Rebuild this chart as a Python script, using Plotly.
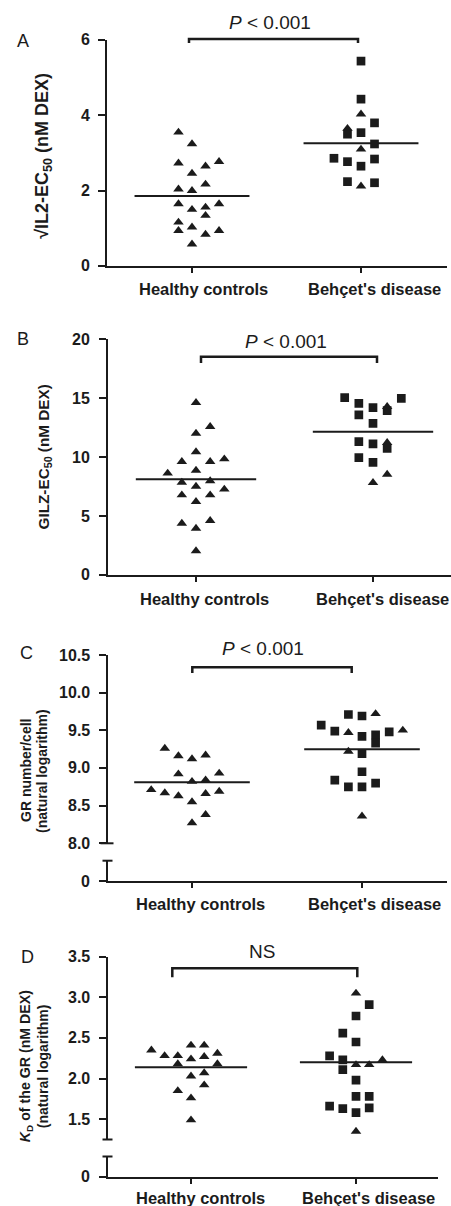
import plotly.graph_objects as go

W, H = 451, 1206
INK = "#1b1b1b"
FONT = "Liberation Sans, Arial, Helvetica, sans-serif"
SLOT = 0.08        # horizontal spacing of beeswarm columns (category units)
HALF = 0.34        # half width of the central line (category units)

categories = ["Healthy controls", "Behçet's disease"]

# ---------------- Panel A : sqrt IL2-EC50 ----------------
a_hc_tri_val = [3.55, 3.24, 2.73, 2.46, 2.65, 2.77, 2.04, 2.00, 2.17, 1.65,
                1.50, 1.56, 1.65, 1.34, 1.16, 0.94, 1.03, 0.84, 0.94, 0.58]
a_hc_tri_col = [-1, 0, -1, 0, 1, 2, -1, 0, 1, -1, 0, 1, 2, 1, -1, -1, 0, 1, 2, 0]
a_bd_sq_val = [5.44, 4.43, 3.80, 3.54, 3.50, 3.24, 2.86, 2.77, 2.65, 2.84, 2.24, 2.21]
a_bd_sq_col = [0, 0, 1, 0, -1, 1, -2, -1, 0, 1, -1, 1]
a_bd_tri_val = [4.03, 3.65, 3.10, 2.12]
a_bd_tri_col = [0, -1, 0, 0]
a_center = [1.86, 3.26]
a_ticks = [0, 2, 4, 6]
a_ticklabels = ["0", "2", "4", "6"]

# ---------------- Panel B : GILZ-EC50 ----------------
b_hc_tri_val = [14.63, 12.02, 12.59, 10.44, 9.62, 9.62, 9.84, 8.88, 8.63, 7.86,
                7.98, 7.52, 7.27, 6.79, 6.79, 6.22, 4.38, 4.61, 3.96, 2.04]
b_hc_tri_col = [0, 0, 1, 0, -1, 1, 2, 0, -2, -1, 1, 0, 2, -1, 1, 0, -1, 1, 0, 0]
b_bd_sq_val = [15.05, 14.57, 14.20, 13.95, 14.99, 13.58, 12.87, 11.32, 11.12, 10.75, 9.96, 9.56]
b_bd_sq_col = [-2, -1, 0, 1, 2, -1, 0, -1, 0, 1, -1, 0]
b_bd_tri_val = [14.29, 11.23, 8.54, 7.84]
b_bd_tri_col = [1, 1, 1, 0]
b_center = [8.12, 12.16]
b_ticks = [0, 5, 10, 15, 20]
b_ticklabels = ["0", "5", "10", "15", "20"]

# ---------------- Panel C : GR number/cell (ln) ----------------
c_hc_tri_val = [9.26, 9.16, 9.12, 9.17, 8.92, 8.93, 8.82, 8.84, 8.71, 8.67,
                8.63, 8.66, 8.69, 8.55, 8.38, 8.27]
c_hc_tri_col = [-2, -1, 0, 1, -1, 2, 0, 1, -3, -2, -1, 1, 2, 0, 1, 0]
c_bd_sq_val = [9.71, 9.69, 9.57, 9.49, 9.42, 9.44, 9.33, 9.48, 9.19, 8.95, 8.84, 8.75, 8.75, 8.80]
c_bd_sq_col = [-1, 0, -3, -2, 0, 1, 1, 2, 0, 0, -2, -1, 0, 1]
c_bd_tri_val = [9.72, 9.47, 9.50, 9.22, 8.36]
c_bd_tri_col = [1, -1, 3, -1, 0]
c_center = [8.81, 9.25]
c_ticks = [8.0, 8.5, 9.0, 9.5, 10.0, 10.5]
c_ticklabels = ["8.0", "8.5", "9.0", "9.5", "10.0", "10.5"]

# ---------------- Panel D : KD of the GR (ln) ----------------
d_hc_tri_val = [2.35, 2.28, 2.28, 2.41, 2.41, 2.31, 2.24, 2.27, 2.18, 2.18,
                2.03, 2.07, 1.92, 1.85, 1.76, 1.49]
d_hc_tri_col = [-3, -2, -1, 0, 1, 2, 0, 1, -1, 2, 0, 1, 1, -1, 0, 0]
d_bd_sq_val = [2.91, 2.77, 2.56, 2.45, 2.28, 2.23, 2.11, 1.98, 1.78, 1.78, 1.66, 1.63, 1.58, 1.64]
d_bd_sq_col = [1, 0, -1, 0, -2, -1, -1, 0, 0, 1, -2, -1, 0, 1]
d_bd_tri_val = [3.05, 2.17, 2.17, 2.23, 1.35]
d_bd_tri_col = [0, 0, 1, 2, 0]
d_center = [2.14, 2.20]
d_ticks = [1.5, 2.0, 2.5, 3.0, 3.5]
d_ticklabels = ["1.5", "2.0", "2.5", "3.0", "3.5"]

zero_tick = [0]
zero_label = ["0"]


def px(x):
    return x / W


def py(y):
    return 1 - y / H


fig = go.Figure()


def add_group(xa, ya, cat, vals, cols, symbol, size):
    fig.add_trace(go.Scatter(
        x=[cat + c * SLOT for c in cols], y=vals, mode="markers",
        xaxis=xa, yaxis=ya, showlegend=False, hoverinfo="skip",
        marker=dict(symbol=symbol, size=size, color=INK, line=dict(width=0))))


def add_center(xa, ya, cat, val):
    fig.add_trace(go.Scatter(
        x=[cat - HALF, cat + HALF], y=[val, val], mode="lines",
        xaxis=xa, yaxis=ya, showlegend=False, hoverinfo="skip",
        line=dict(color=INK, width=2)))


TRI, SQ = 9.2, 8.7
panels = [
    ("x", "y", a_hc_tri_val, a_hc_tri_col, a_bd_sq_val, a_bd_sq_col, a_bd_tri_val, a_bd_tri_col, a_center),
    ("x2", "y2", b_hc_tri_val, b_hc_tri_col, b_bd_sq_val, b_bd_sq_col, b_bd_tri_val, b_bd_tri_col, b_center),
    ("x3", "y3", c_hc_tri_val, c_hc_tri_col, c_bd_sq_val, c_bd_sq_col, c_bd_tri_val, c_bd_tri_col, c_center),
    ("x4", "y5", d_hc_tri_val, d_hc_tri_col, d_bd_sq_val, d_bd_sq_col, d_bd_tri_val, d_bd_tri_col, d_center),
]
for xa, ya, ht, hc, bs, bsc, bt, btc, cen in panels:
    add_center(xa, ya, 0, cen[0])
    add_center(xa, ya, 1, cen[1])
    add_group(xa, ya, 0, ht, hc, "triangle-up", TRI)
    add_group(xa, ya, 1, bs, bsc, "square", SQ)
    add_group(xa, ya, 1, bt, btc, "triangle-up", TRI)

# empty traces so that the lower (broken-axis) subplots exist
for xa, ya in [("x3", "y4"), ("x4", "y6")]:
    fig.add_trace(go.Scatter(x=[None], y=[None], mode="markers", xaxis=xa, yaxis=ya,
                             showlegend=False, hoverinfo="skip"))

layout = dict(width=W, height=H, autosize=False, margin=dict(l=0, r=0, t=0, b=0),
              paper_bgcolor="white", plot_bgcolor="white", showlegend=False)
annotations = []
shapes = []

# ---- x axes: left px, right px, category0 px, category1 px, anchor,
#      label mid-y px, label shifts (px) ----
xgeo = {
    "x": (107, 447, 192, 361, "y", 288.6, (11, 13)),
    "x2": (108, 451, 196, 373, "y2", 599.2, (8, 9)),
    "x3": (108, 447, 192, 362, "y4", 904.2, (8, 12)),
    "x4": (108, 438, 191, 356, "y6", 1197.6, (9, 12)),
}
xlabfont = dict(family=FONT, size=16.5, color=INK, weight=700)
for name, (l, r, c0, c1, anchor, ly, shifts) in xgeo.items():
    ppu = c1 - c0
    key = "xaxis" if name == "x" else "xaxis" + name[1:]
    layout[key] = dict(
        domain=[px(l), px(r)], range=[-(c0 - l) / ppu, 1 + (r - c1) / ppu],
        anchor=anchor, tickvals=[0, 1], showticklabels=False, showline=True,
        linecolor=INK, linewidth=2, ticks="outside", ticklen=5, tickwidth=2,
        tickcolor=INK, showgrid=False, zeroline=False, fixedrange=True)
    for i, cat in enumerate(categories):
        annotations.append(dict(text=cat, x=i, xref=name, y=py(ly), yref="paper",
                                xshift=shifts[i], xanchor="center", yanchor="middle",
                                showarrow=False, font=xlabfont))

ylabfont = dict(family=FONT, size=16, color=INK, weight=700)
YLAB_X = 92   # right edge (px) of y tick labels


def yaxis(key, ref, top, bottom, rng, ticks, labels, anchor):
    layout[key] = dict(domain=[py(bottom), py(top)], range=list(rng), anchor=anchor,
                       tickvals=ticks, showticklabels=False, showline=True,
                       linecolor=INK, linewidth=2, ticks="outside", ticklen=7,
                       tickwidth=2, tickcolor=INK, showgrid=False, zeroline=False,
                       fixedrange=True)
    for v, t in zip(ticks, labels):
        annotations.append(dict(text=t, x=px(YLAB_X), xref="paper", y=v, yref=ref,
                                xanchor="right", yanchor="middle", showarrow=False,
                                font=ylabfont))


yaxis("yaxis", "y", 40, 266, (0, 6), a_ticks, a_ticklabels, "x")
yaxis("yaxis2", "y2", 339.3, 575, (0, 20), b_ticks, b_ticklabels, "x2")
yaxis("yaxis3", "y3", 655, 843.3, (8.0, 10.5), c_ticks, c_ticklabels, "x3")
yaxis("yaxis4", "y4", 860.7, 881, (0, 1), zero_tick, zero_label, "x3")
yaxis("yaxis5", "y5", 956.7, 1139.5, (1.25, 3.5), d_ticks, d_ticklabels, "x4")
yaxis("yaxis6", "y6", 1156.5, 1176.7, (0, 1), zero_tick, zero_label, "x4")

# axis break caps
for (xc, yc, a, b) in [(107.5, 843.3, 7, 6), (107.5, 860.7, 5, 5),
                       (107.5, 1139.5, 5, 5), (107.5, 1156.5, 5, 5)]:
    shapes.append(dict(type="line", xref="paper", yref="paper",
                       x0=px(xc - a), x1=px(xc + b), y0=py(yc), y1=py(yc),
                       line=dict(color=INK, width=2)))

# significance brackets
brackets = [
    (189, 358, 39, 43, "<i>P</i> < 0.001", 270, 23),
    (201, 377, 356.7, 363, "<i>P</i> < 0.001", 286, 341.7),
    (192.3, 351.7, 667.3, 673, "<i>P</i> < 0.001", 263, 648.3),
    (172.3, 357.3, 968.3, 977.3, "NS", 262, 951.7),
]
for x0, x1, yt, yh, txt, tx, ty in brackets:
    shapes.append(dict(type="path", xref="paper", yref="paper",
                       path=f"M{px(x0)},{py(yh)} L{px(x0)},{py(yt)} L{px(x1)},{py(yt)} L{px(x1)},{py(yh)}",
                       line=dict(color=INK, width=2.5)))
    annotations.append(dict(text=txt, x=px(tx), y=py(ty), xref="paper", yref="paper",
                            xanchor="center", yanchor="middle", showarrow=False,
                            font=dict(family=FONT, size=19, color=INK)))

# panel letters
for letter, lx, ly in [("A", 23, 41), ("B", 23, 339), ("C", 26, 653), ("D", 27, 957)]:
    annotations.append(dict(text=letter, x=px(lx), y=py(ly), xref="paper", yref="paper",
                            xanchor="center", yanchor="middle", showarrow=False,
                            font=dict(family=FONT, size=18, color=INK)))

# y titles
ytitles = [
    ("√IL2-EC<sub>50</sub> (nM DEX)", 44, 155.8, 18),
    ("GILZ-EC<sub>50</sub> (nM DEX)", 44, 457.5, 15.3),
    ("GR number/cell", 26, 771, 14),
    ("(natural logarithm)", 42, 771, 14),
    ("<i>K</i><sub>D</sub> of the GR (nM DEX)", 25.5, 1066.7, 14.2),
    ("(natural logarithm)", 42.5, 1066.7, 14),
]
for txt, tx, ty, fs in ytitles:
    annotations.append(dict(text=txt, x=px(tx), y=py(ty), xref="paper", yref="paper",
                            xanchor="center", yanchor="middle", showarrow=False, textangle=-90,
                            font=dict(family=FONT, size=fs, color=INK, weight=700)))

layout["shapes"] = shapes
layout["annotations"] = annotations
fig.update_layout(**layout)

fig.write_html("out.html", config={"displayModeBar": False, "staticPlot": True},
               post_script="document.body.style.margin='0px';document.body.style.overflow='hidden';")
